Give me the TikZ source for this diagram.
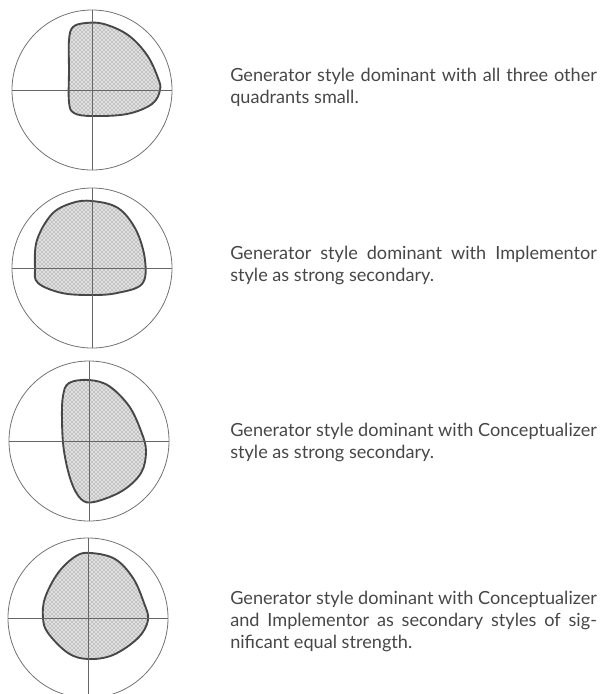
\documentclass[tikz,border=0pt]{standalone}
\usepackage{fontspec}
\setmainfont{Lato}
\usetikzlibrary{calc,patterns,positioning}

\begin{document}
\begin{tikzpicture}[x=0.75pt,y=-0.75pt,
  frame/.style={draw=black!55,line width=0.6pt},
  axis/.style={draw=black!60,line width=0.6pt},
  blob/.style={draw=black!72,line width=1.4pt,preaction={fill=black!12},
    pattern=crosshatch dots,pattern color=black!60},
  note/.style={anchor=west,text width=275pt,align=justify,inner sep=0pt,
    text=black!72,font=\fontsize{13.6}{16.5}\selectfont}]
  \useasboundingbox (0,0) rectangle (600,694);
  % circles with quadrant axes
  \foreach \name/\cx/\cy in {g1/92/90, g2/92/268, g3/89/441, g4/88/618} {
    \coordinate (\name) at (\cx,\cy);
  }
  % g1: generator alone
  \begin{scope}[shift={(g1)}]
    \draw[blob] plot[smooth cycle,tension=0.6] coordinates {
      (-23,-50) (-19,-63) (-6,-67) (12,-66) (36,-55) (55,-35) (66,-12) (68,0)
      (60,14) (35,24) (0,26) (-18,23) (-23,12) (-23,-20)};
  \end{scope}
  % g2: with implementor
  \begin{scope}[shift={(g2)}]
    \draw[blob] plot[smooth cycle,tension=0.6] coordinates {
      (0,-67) (26,-60) (44,-38) (53,-8) (50,16) (25,25) (0,27) (-30,25)
      (-54,15) (-57,0) (-55,-28) (-40,-54) (-20,-65)};
  \end{scope}
  % g3: with conceptualizer
  \begin{scope}[shift={(g3)}]
    \draw[blob] plot[smooth cycle,tension=0.6] coordinates {
      (-20,-58) (0,-61) (20,-55) (40,-35) (52,-10) (57,10) (52,32) (33,50)
      (5,61) (-8,58) (-18,40) (-25,10) (-27,-20) (-26,-45)};
  \end{scope}
  % g4: both secondaries
  \begin{scope}[shift={(g4)}]
    \draw[blob] plot[smooth cycle,tension=0.6] coordinates {
      (3,-65) (27,-59) (45,-40) (56,-15) (60,2) (50,20) (25,37) (0,41)
      (-20,35) (-40,15) (-45,0) (-43,-20) (-30,-45) (-12,-62)};
  \end{scope}
  \foreach \name in {g1,g2,g3,g4} {
    \draw[frame] (\name) circle (80);
    \draw[axis] ($(\name)+(-80,0)$) -- ($(\name)+(80,0)$);
    \draw[axis] ($(\name)+(0,-80)$) -- ($(\name)+(0,80)$);
  }
  % captions
  \node[note] (t1) at (230,87) {Generator style dominant with all three other\linebreak
    quadrants small.};
  \node[note] (t2) at (230,265) {Generator style dominant with Implementor\linebreak
    style as strong secondary.};
  \node[note] (t3) at (230,442) {Generator style dominant with Conceptualizer\linebreak
    style as strong secondary.};
  \node[note] (t4) at (230,621) {Generator style dominant with Conceptualizer\linebreak
    and Implementor as secondary styles of sig-\linebreak
    nificant equal strength.};
\end{tikzpicture}
\end{document}
